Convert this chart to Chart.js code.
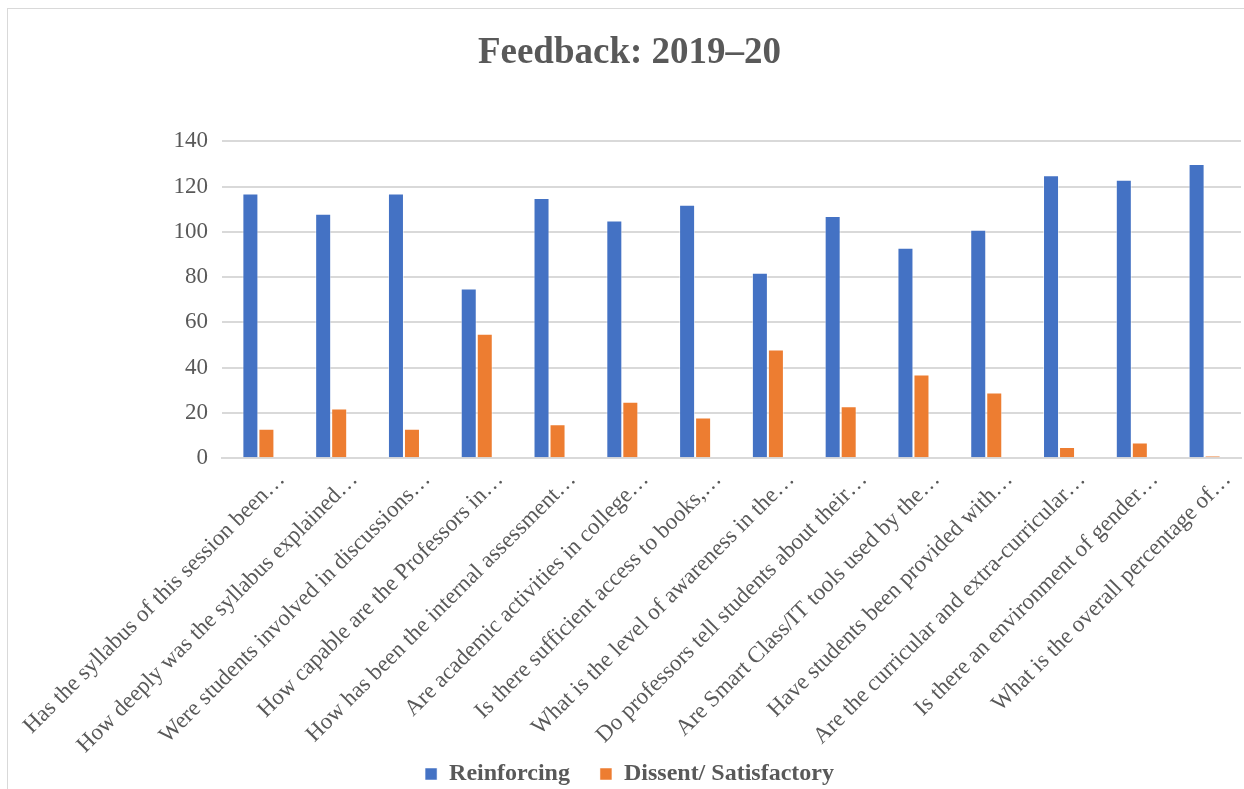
<!DOCTYPE html>
<html>
<head>
<meta charset="utf-8">
<script src="https://cdn.jsdelivr.net/npm/chart.js@4"></script>
<style>
  body { margin: 0; background: #fff; overflow: hidden; }
  #wrap { position: absolute; left: 7px; top: 8px; width: 1237px; height: 781px; border-left: 1px solid #d9d9d9; border-top: 1px solid #d9d9d9; overflow: hidden; }
  canvas { position: absolute; left: 0; top: 0; }
</style>
</head>
<body>
<div id="wrap"><canvas id="myChart" width="1236" height="787"></canvas></div>
<script>
var questions = [
    'Has the syllabus of this session been\u2026',
    'How deeply was the syllabus explained\u2026',
    'Were students involved in discussions\u2026',
    'How capable are the Professors in\u2026',
    'How has been the internal assessment\u2026',
    'Are academic activities in college\u2026',
    'Is there sufficient access to books,\u2026',
    'What is the level of awareness in the\u2026',
    'Do professors tell students about their\u2026',
    'Are Smart Class/IT tools used by the\u2026',
    'Have students been provided with\u2026',
    'Are the curricular and extra-curricular\u2026',
    'Is there an environment of gender\u2026',
    'What is the overall percentage of\u2026'
];
var reinforcing = [117, 108, 117, 75, 115, 105, 112, 82, 107, 93, 101, 125, 123, 130];
var dissent = [13, 22, 13, 55, 15, 25, 18, 48, 23, 37, 29, 5, 7, 1];
var yTicks = [0, 20, 40, 60, 80, 100, 120, 140];

var serif = '"Liberation Serif", "Times New Roman", serif';
var grey = '#595959';

//draw chart
const ctx = document.getElementById('myChart');
const myChart = new Chart(ctx, {
    type: 'bar',
    data: {
        labels: questions,
        datasets: [{
            label: 'Reinforcing',
            data: reinforcing,
            backgroundColor: '#4472c4',
            borderColor: 'rgba(255,255,255,0.5)',
            borderWidth: 1
        }, {
            label: 'Dissent/ Satisfactory',
            data: dissent,
            backgroundColor: '#ed7d31',
            borderColor: 'rgba(255,255,255,0.5)',
            borderWidth: 1
        }]
    },
    options: {
        responsive: false,
        animation: false,
        layout: {
            padding: { left: 10, right: 3, top: 0, bottom: 0 }
        },
        datasets: {
            bar: { categoryPercentage: 0.44, barPercentage: 1.0 }
        },
        plugins: {
            title: {
                display: true,
                text: 'Feedback: 2019\u201320',
                color: grey,
                font: { family: serif, size: 37, weight: 'bold' },
                padding: { top: 22, bottom: 66 }
            },
            legend: {
                position: 'bottom',
                labels: {
                    color: grey,
                    font: { family: serif, size: 24, weight: 'bold' },
                    boxWidth: 12,
                    boxHeight: 12,
                    padding: 30
                }
            },
            tooltip: { enabled: false }
        },
        scales: {
            x: {
                grid: { display: false },
                border: { color: '#d9d9d9', width: 2 },
                ticks: {
                    color: grey,
                    font: { family: serif, size: 23 },
                    minRotation: 45,
                    maxRotation: 45,
                    autoSkip: false,
                    labelOffset: 23,
                    padding: 0
                },
                afterFit: function(scale) {
                    scale.paddingLeft = 0;
                    scale.paddingRight = 0;
                    scale.height = scale.height - 27;
                    // labels may hang below the shortened box, so don't clip them
                    scale._computeLabelArea = function() { return undefined; };
                }
            },
            y: {
                min: yTicks[0],
                max: yTicks[yTicks.length - 1],
                grid: { color: '#d9d9d9', lineWidth: 2, drawTicks: false },
                border: { display: false },
                ticks: {
                    stepSize: 20,
                    color: grey,
                    font: { family: serif, size: 23 },
                    padding: 14
                },
                afterFit: function(scale) { scale.width = 204; }
            }
        }
    }
});
</script>
</body>
</html>
